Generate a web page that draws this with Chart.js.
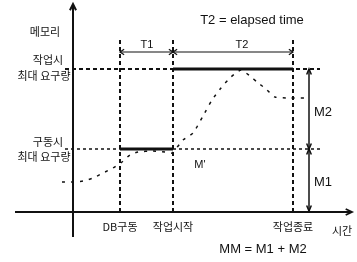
<!DOCTYPE html>
<html><head><meta charset="utf-8">
<script src="https://cdn.jsdelivr.net/npm/chart.js@4"></script>
<style>html,body{margin:0;padding:0;background:#fff;}canvas{display:block;}</style>
</head><body>
<canvas id="c" width="357" height="262"></canvas>
<script>
// ---- Data (time units on x, memory units on y) ----
const milestoneLabels = ['DB구동', '작업시작', '작업종료'];
const milestoneTimes = [4.7, 10.0, 22.0];
const levelLabels = [['구동시', '최대 요구량'], ['작업시', '최대 요구량']];
const levelValues = [6.3, 14.3];
const usageTime   = [-1.1, 0.0, 1.0, 2.0, 3.0, 4.0, 4.9, 5.7, 6.5, 8.0, 9.2, 9.9, 11.0, 12.0, 13.0, 13.9, 14.8, 15.8, 16.8, 17.7, 18.4, 19.3, 20.2, 21.7, 23.2];
const usageMemory = [3.0, 3.0, 3.1, 3.4, 3.9, 4.4, 5.0, 5.7, 6.0, 6.1, 6.0, 5.9, 7.2, 7.9, 9.6, 11.2, 12.4, 13.5, 14.2, 13.6, 13.0, 12.3, 11.5, 11.4, 11.4];
const axisTitles = ['메모리', '시간'];
const periodLabels = ['T1', 'T2'];
const amountLabels = ['M1', 'M2'];
const noteLabels = ['T2 = elapsed time', 'MM = M1 + M2', "M'"];

// ---- Layout (positions in data units) ----
const xRange = [-7.3, 28.4], yRange = [-5.0, 21.2];
const axisX = [-5.8, 27.9], axisY = [-2.5, 20.8];
const guideTop = 17.2, guideLeft = -0.8, guideRight = 24.8;
const periodY = 16.0, amountX = 23.6;

const black = '#111';
function seg(pts, opts) {
  return Object.assign({data: pts, showLine: true, pointRadius: 0, borderColor: black, borderWidth: 1.5, fill: false, tension: 0}, opts || {});
}
const datasets = [];
datasets.push(seg([{x:0,y:axisY[0]},{x:0,y:axisY[1]}], {borderWidth: 2}));
datasets.push(seg([{x:axisX[0],y:0},{x:axisX[1],y:0}], {borderWidth: 2}));
milestoneTimes.forEach(t => datasets.push(seg([{x:t,y:0},{x:t,y:guideTop}], {borderWidth: 2, borderDash: [4,3]})));
datasets.push(seg([{x:guideLeft,y:levelValues[1]},{x:guideRight-0.1,y:levelValues[1]}], {borderWidth: 1.8, borderDash: [4,3]}));
datasets.push(seg([{x:guideLeft,y:levelValues[0]},{x:guideRight,y:levelValues[0]}], {borderWidth: 1.5, borderDash: [3,3]}));
datasets.push(seg([{x:milestoneTimes[0],y:levelValues[0]},{x:milestoneTimes[1],y:levelValues[0]}], {borderWidth: 3}));
datasets.push(seg([{x:milestoneTimes[1],y:levelValues[1]},{x:milestoneTimes[2],y:levelValues[1]}], {borderWidth: 3}));
datasets.push(seg(usageTime.map((t,i)=>({x:t,y:usageMemory[i]})), {borderWidth: 1.5, borderDash: [3,6], tension: 0.2}));
datasets.push(seg([{x:milestoneTimes[0],y:periodY},{x:milestoneTimes[1],y:periodY}], {borderWidth: 1.2}));
datasets.push(seg([{x:milestoneTimes[1],y:periodY},{x:milestoneTimes[2],y:periodY}], {borderWidth: 1.2}));
datasets.push(seg([{x:amountX,y:0.1},{x:amountX,y:levelValues[0]}], {borderWidth: 1.5}));
datasets.push(seg([{x:amountX,y:levelValues[0]},{x:amountX,y:levelValues[1]}], {borderWidth: 1.5}));

function arrowHead(ctx, px, py, ang, len, spread, w) {
  ctx.save();
  ctx.strokeStyle = black; ctx.lineWidth = w; ctx.setLineDash([]);
  ctx.beginPath();
  ctx.moveTo(px - len*Math.cos(ang - spread), py - len*Math.sin(ang - spread));
  ctx.lineTo(px, py);
  ctx.lineTo(px - len*Math.cos(ang + spread), py - len*Math.sin(ang + spread));
  ctx.stroke();
  ctx.restore();
}

const KR = '11px "Noto Sans CJK KR"';
const LAT = '13px "Liberation Sans"';
const LATS = '11px "Liberation Sans"';

const decorations = {
  id: 'decorations',
  afterDatasetsDraw(chart) {
    const ctx = chart.ctx, X = v => chart.scales.x.getPixelForValue(v), Y = v => chart.scales.y.getPixelForValue(v);
    // axis arrows
    arrowHead(ctx, X(0), Y(axisY[1]), -Math.PI/2, 7, 0.45, 2);
    arrowHead(ctx, X(axisX[1]), Y(0), 0, 7, 0.45, 1.8);
    // period arrows
    const py = Y(periodY);
    arrowHead(ctx, X(milestoneTimes[0]), py, Math.PI, 5, 0.6, 1.2);
    arrowHead(ctx, X(milestoneTimes[1]), py, 0, 5, 0.6, 1.2);
    arrowHead(ctx, X(milestoneTimes[1]), py, Math.PI, 5, 0.6, 1.2);
    arrowHead(ctx, X(milestoneTimes[2]), py, 0, 5, 0.6, 1.2);
    // amount arrows
    const ax = X(amountX);
    arrowHead(ctx, ax, Y(levelValues[1]), -Math.PI/2, 6, 0.4, 1.5);
    arrowHead(ctx, ax, Y(levelValues[0]), Math.PI/2, 6, 0.4, 1.5);
    arrowHead(ctx, ax, Y(levelValues[0]), -Math.PI/2, 6, 0.4, 1.5);
    arrowHead(ctx, ax, Y(0.1), Math.PI/2, 6, 0.4, 1.5);
    // texts
    ctx.save();
    ctx.fillStyle = black; ctx.textAlign = 'center'; ctx.textBaseline = 'middle';
    function txt(s, x, y, f) { ctx.font = f; ctx.fillText(s, X(x), Y(y)); }
    txt(axisTitles[0], -2.8, 18.0, KR);
    txt(axisTitles[1], 26.9, -1.9, KR);
    txt(levelLabels[1][0], -2.5, 15.2, KR);
    txt(levelLabels[1][1], -2.9, 13.6, KR);
    txt(levelLabels[0][0], -2.5, 7.0, KR);
    txt(levelLabels[0][1], -2.9, 5.5, KR);
    milestoneLabels.forEach((s, i) => txt(s, milestoneTimes[i], -1.5, KR));
    txt(periodLabels[0], 7.4, 16.7, LATS);
    txt(periodLabels[1], 16.9, 16.7, LATS);
    txt(amountLabels[1], 25.0, 10.0, LAT);
    txt(amountLabels[0], 25.0, 3.0, LAT);
    txt(noteLabels[0], 17.9, 19.2, LAT);
    txt(noteLabels[1], 19.0, -3.7, LAT);
    txt(noteLabels[2], 12.7, 4.7, LATS);
    ctx.restore();
  }
};

new Chart(document.getElementById('c'), {
  type: 'scatter',
  data: {datasets},
  options: {
    responsive: false, animation: false, devicePixelRatio: 1,
    layout: {padding: 0},
    plugins: {legend: {display: false}, tooltip: {enabled: false}},
    scales: {
      x: {type: 'linear', min: xRange[0], max: xRange[1], display: false},
      y: {type: 'linear', min: yRange[0], max: yRange[1], display: false}
    }
  },
  plugins: [decorations]
});
</script>
</body></html>
